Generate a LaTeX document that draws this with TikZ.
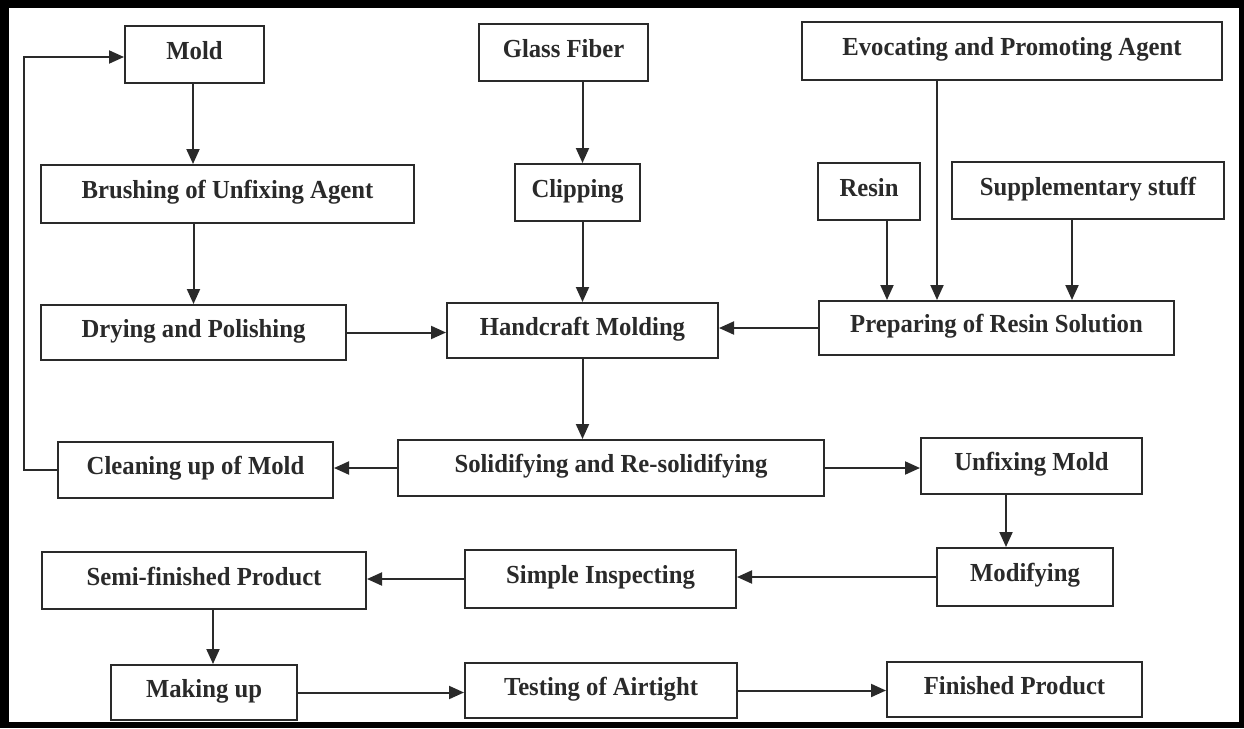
\documentclass[tikz,border=0pt]{standalone}
\usepackage{fontspec}
\setmainfont{Liberation Serif}[FakeStretch=0.95]
\usetikzlibrary{arrows.meta}
\definecolor{ink}{HTML}{2A2A2A}
\tikzset{
  box/.style={draw=ink, line width=2pt, text=ink, inner sep=0pt,
    text height=17pt, text depth=8pt,
    font=\fontsize{26}{30}\selectfont\bfseries},
  arr/.style={draw=ink, line width=2pt, -{Triangle[length=15pt,width=13pt]}},
  plain/.style={draw=ink, line width=2pt}
}
\begin{document}
\begin{tikzpicture}[x=1pt,y=-1pt]
\useasboundingbox (0,0) rectangle (1244,728);
\fill[black] (0,0) rectangle (1244,728);
\fill[white] (9,8) rectangle (1239,722);

% row 1
\node[box, minimum width=139pt, minimum height=57pt] (mold) at (194.5,54.5) {Mold};
\node[box, minimum width=169pt, minimum height=57pt] (glass) at (563.5,52.5) {Glass Fiber};
\node[box, minimum width=420pt, minimum height=58pt] (evoc) at (1012,51) {Evocating and Promoting Agent};
% row 2
\node[box, minimum width=373pt, minimum height=58pt] (brush) at (227.5,194) {Brushing of Unfixing Agent};
\node[box, minimum width=125pt, minimum height=57pt] (clip) at (577.5,192.5) {Clipping};
\node[box, minimum width=102pt, minimum height=57pt] (resin) at (869,191.5) {Resin};
\node[box, minimum width=272pt, minimum height=57pt] (supp) at (1088,190.5) {Supplementary stuff};
% row 3
\node[box, minimum width=305pt, minimum height=55pt] (dry) at (193.5,332.5) {Drying and Polishing};
\node[box, minimum width=271pt, minimum height=55pt] (hand) at (582.5,330.5) {Handcraft Molding};
\node[box, minimum width=355pt, minimum height=54pt] (prep) at (996.5,328) {Preparing of Resin Solution};
% row 4
\node[box, minimum width=275pt, minimum height=56pt] (clean) at (195.5,470) {Cleaning up of Mold};
\node[box, minimum width=426pt, minimum height=56pt] (solid) at (611,468) {Solidifying and Re-solidifying};
\node[box, minimum width=221pt, minimum height=56pt] (unfix) at (1031.5,466) {Unfixing Mold};
% row 5
\node[box, minimum width=324pt, minimum height=57pt] (semi) at (204,580.5) {Semi-finished Product};
\node[box, minimum width=271pt, minimum height=58pt] (simple) at (600.5,579) {Simple Inspecting};
\node[box, minimum width=176pt, minimum height=58pt] (modify) at (1025,577) {Modifying};
% row 6
\node[box, minimum width=186pt, minimum height=55pt] (making) at (204,692.5) {Making up};
\node[box, minimum width=272pt, minimum height=55pt] (test) at (601,690.5) {Testing of Airtight};
\node[box, minimum width=255pt, minimum height=55pt] (fin) at (1014.5,689.5) {Finished Product};

% connectors
\draw[arr] ([xshift=-1.5pt]mold.south) -- ([xshift=-1.5pt]mold.south |- brush.north);
\draw[arr] (dry.north |- brush.south) -- (dry.north);
\draw[arr] (hand.north |- glass.south) -- (hand.north |- clip.north);
\draw[arr] (hand.north |- clip.south) -- (hand.north);
\draw[arr] ([xshift=-75pt]evoc.south) -- ([xshift=-75pt]evoc.south |- prep.north);
\draw[arr] ([xshift=18pt]resin.south) -- ([xshift=18pt]resin.south |- prep.north);
\draw[arr] ([xshift=-16pt]supp.south) -- ([xshift=-16pt]supp.south |- prep.north);
\draw[arr] (dry.east) -- (dry.east -| hand.west);
\draw[arr] (prep.west) -- (prep.west -| hand.east);
\draw[arr] (hand.south) -- (hand.south |- solid.north);
\draw[arr] (solid.west) -- (solid.west -| clean.east);
\draw[arr] (clean.west) -- ++(-33pt,0pt) |- ([yshift=-2.5pt]mold.west);
\draw[arr] (solid.east) -- (solid.east -| unfix.west);
\draw[arr] ([xshift=-19pt]modify.north |- unfix.south) -- ([xshift=-19pt]modify.north);
\draw[arr] (modify.west) -- (modify.west -| simple.east);
\draw[arr] (simple.west) -- (simple.west -| semi.east);
\draw[arr] ([xshift=9pt]semi.south) -- ([xshift=9pt]semi.south |- making.north);
\draw[arr] (making.east) -- (making.east -| test.west);
\draw[arr] (test.east) -- (test.east -| fin.west);
\end{tikzpicture}
\end{document}
